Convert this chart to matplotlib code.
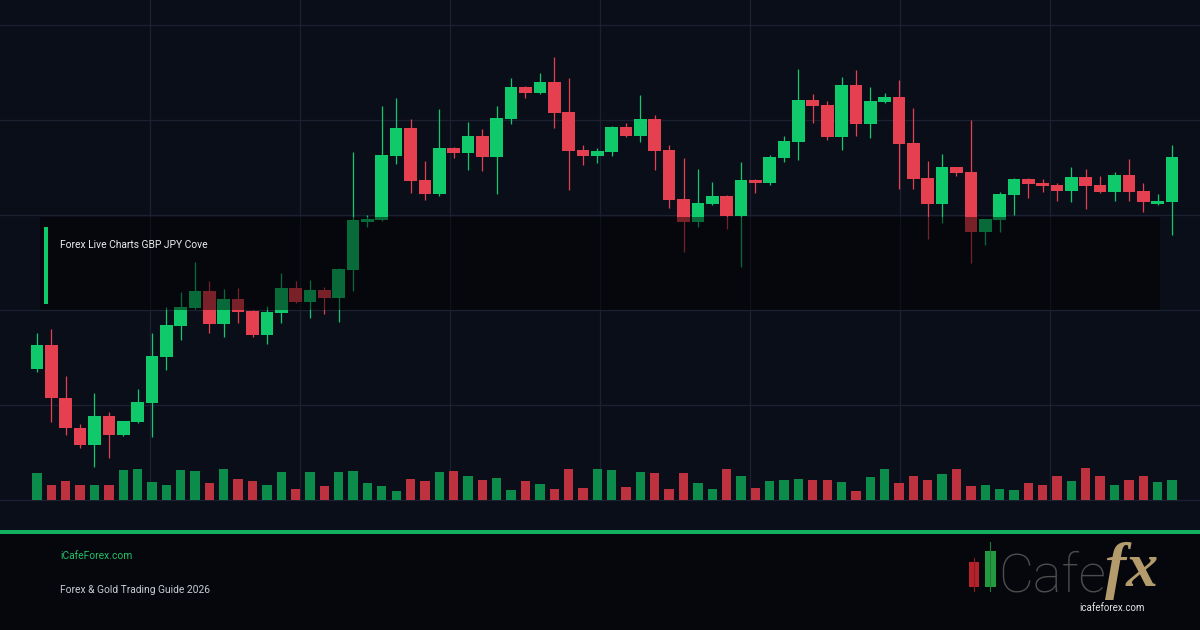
import matplotlib
matplotlib.use("Agg")
import matplotlib.pyplot as plt
from matplotlib.patches import Rectangle
import numpy as np

# ---------------- data (GBP/JPY candles) ----------------
opens = [196.38, 196.63, 196.07, 195.76, 195.58, 195.88, 195.68, 195.82, 196.02, 196.51,
         196.83, 197.02, 197.20, 196.85, 197.12, 196.99, 196.74, 196.97, 197.23, 197.08,
         197.21, 197.13, 197.42, 197.93, 197.95, 198.62, 198.92, 198.37, 198.22, 198.70,
         198.65, 198.83, 198.61, 199.01, 199.35, 199.28, 199.40, 199.08, 198.68, 198.62,
         198.66, 198.93, 198.83, 199.01, 198.68, 198.17, 197.93, 198.12, 198.20, 197.99,
         198.37, 198.34, 198.60, 198.77, 199.21, 199.16, 198.82, 199.37, 198.96, 199.19,
         199.24, 198.76, 198.39, 198.12, 198.50, 198.45, 197.82, 197.95, 198.21, 198.38,
         198.34, 198.32, 198.25, 198.40, 198.32, 198.24, 198.42, 198.25, 198.12, 198.14]

highs = [196.76, 196.80, 196.31, 195.80, 196.13, 195.93, 195.83, 196.17, 196.76, 197.03,
         197.19, 197.51, 197.31, 197.22, 197.23, 197.00, 197.04, 197.39, 197.31, 197.32,
         197.24, 197.44, 198.66, 198.00, 199.15, 199.23, 199.01, 198.57, 199.12, 198.72,
         198.98, 198.90, 199.15, 199.44, 199.36, 199.49, 199.66, 199.44, 198.74, 198.70,
         198.94, 198.97, 199.26, 199.05, 198.74, 198.60, 198.48, 198.35, 198.21, 198.56,
         198.38, 198.63, 198.83, 199.54, 199.27, 199.20, 199.45, 199.53, 199.35, 199.28,
         199.42, 199.13, 198.57, 198.64, 198.51, 199.00, 197.96, 198.24, 198.39, 198.39,
         198.38, 198.34, 198.50, 198.48, 198.41, 198.45, 198.59, 198.34, 198.22, 198.74]

lows = [196.35, 195.82, 195.68, 195.55, 195.35, 195.44, 195.67, 195.81, 195.66, 196.37,
        196.68, 197.01, 196.76, 196.72, 196.86, 196.72, 196.64, 196.86, 197.07, 196.92,
        196.96, 196.87, 197.20, 197.87, 197.94, 198.54, 198.23, 198.16, 198.20, 198.60,
        198.47, 198.46, 198.22, 198.96, 199.23, 199.27, 198.92, 198.26, 198.53, 198.55,
        198.62, 198.82, 198.77, 198.47, 198.07, 197.61, 197.87, 198.11, 197.85, 197.45,
        198.23, 198.32, 198.56, 198.58, 198.97, 198.79, 198.68, 198.83, 198.81, 199.18,
        198.27, 198.27, 197.75, 197.92, 198.41, 197.49, 197.68, 197.82, 198.00, 198.18,
        198.24, 198.15, 198.14, 198.06, 198.23, 198.15, 198.15, 198.03, 198.11, 197.79]

closes = [196.63, 196.07, 195.76, 195.58, 195.88, 195.68, 195.83, 196.03, 196.52, 196.84,
          197.03, 197.20, 196.85, 197.12, 196.98, 196.74, 196.98, 197.23, 197.08, 197.21,
          197.13, 197.43, 197.95, 197.96, 198.63, 198.92, 198.36, 198.22, 198.70, 198.65,
          198.83, 198.61, 199.02, 199.35, 199.28, 199.40, 199.07, 198.67, 198.62, 198.67,
          198.93, 198.83, 199.01, 198.67, 198.16, 197.93, 198.13, 198.20, 197.99, 198.37,
          198.34, 198.61, 198.78, 199.21, 199.15, 198.82, 199.37, 198.96, 199.20, 199.24,
          198.75, 198.38, 198.12, 198.50, 198.44, 197.82, 197.96, 198.22, 198.38, 198.33,
          198.31, 198.25, 198.40, 198.31, 198.24, 198.42, 198.24, 198.14, 198.15, 198.61]

volumes = [2730, 1470, 1930, 1530, 1470, 1470, 3030, 3130, 1830, 1470,
           3030, 2930, 1730, 3130, 2130, 1930, 1470, 2830, 1130, 2830,
           1370, 2830, 2930, 1730, 1370, 930, 2130, 1930, 2830, 2930,
           2430, 2030, 2230, 1030, 1930, 1630, 1130, 3130, 1230, 3130,
           3030, 1330, 2830, 2730, 1130, 2730, 1730, 1130, 3130, 2430,
           1230, 1930, 2030, 2130, 2030, 2030, 1830, 930, 2330, 3130,
           1730, 2430, 2030, 2630, 3130, 1430, 1530, 1130, 1030, 1730,
           1530, 2430, 1930, 3230, 2430, 1530, 2030, 2430, 1830, 2030]

price_grid = [195, 196, 197, 198, 199, 200]

title_text = "Forex Live Charts GBP JPY Cove"
footer_site = "iCafeForex.com"
footer_guide = "Forex & Gold Trading Guide 2026"
logo_word = "Cafe"
logo_fx = "fx"
logo_url = "icafeforex.com"

# ---------------- style ----------------
BG = "#0a0e19"
FOOT_BG = "#05070d"
GRID = "#1b2131"
UP = "#10c96a"
DOWN = "#e5404f"
VUP = "#0c8c4b"
VDOWN = "#be3240"
ACCENT = "#12b05f"

W, H = 1200, 630
fig = plt.figure(figsize=(12, 6.3), dpi=100, facecolor=BG)

# background / layout layer in pixel coordinates
bg = fig.add_axes([0, 0, 1, 1], zorder=0)
bg.set_xlim(0, W)
bg.set_ylim(H, 0)
bg.axis("off")
bg.add_patch(Rectangle((0, 0), W, 530, color=BG, lw=0))
bg.add_patch(Rectangle((0, 530), W, 100, color=FOOT_BG, lw=0))
for gx in [150, 300, 450, 600, 750, 900, 1050]:
    bg.plot([gx, gx], [0, 500], color=GRID, lw=0.9)

# candle axes: occupies pixel rows 0..500
x0_px, step_px = 37.0, 14.367
xlim = (-x0_px / step_px, (W - x0_px) / step_px)
ax = fig.add_axes([0, 130 / H, 1, 500 / H], zorder=1)
ax.set_xlim(*xlim)
ax.set_ylim(195.0, 200.263)
ax.patch.set_alpha(0)
ax.axis("off")
for p in price_grid:
    ax.axhline(p, color=GRID, lw=0.9, zorder=0, clip_on=False)

xs = np.arange(len(opens))
o = np.array(opens); c = np.array(closes); hi = np.array(highs); lo = np.array(lows)
up = c >= o
cols = np.where(up, UP, DOWN)
ax.vlines(xs, lo, hi, colors=cols, lw=0.9, zorder=2)
body_bottom = np.minimum(o, c)
body_h = np.maximum(np.abs(c - o), 0.012)
ax.bar(xs, body_h, bottom=body_bottom, width=0.88, color=cols, lw=0, zorder=3)

# volume axes: baseline at pixel row 500, 1 px = 100 units
vax = fig.add_axes([0, 130 / H, 1, 40 / H], zorder=1)
vax.set_xlim(*xlim)
vax.set_ylim(0, 4000)
vax.patch.set_alpha(0)
vax.axis("off")
vax.bar(xs, volumes, width=0.65, color=np.where(up, VUP, VDOWN), lw=0)

# overlay layer
ov = fig.add_axes([0, 0, 1, 1], zorder=5)
ov.set_xlim(0, W)
ov.set_ylim(H, 0)
ov.patch.set_alpha(0)
ov.axis("off")
ov.add_patch(Rectangle((40, 217), 1120, 93, color="black", alpha=0.47, lw=0))
ov.add_patch(Rectangle((44, 227), 4, 77, color=UP, lw=0))
ov.text(60, 245, title_text, color="#eeeeee", fontsize=7.4, family="Roboto",
        va="center", ha="left")

ov.add_patch(Rectangle((0, 529.5), W, 4.5, color=ACCENT, lw=0))
ov.text(60, 556, footer_site, color="#22c06a", fontsize=7.4, family="Roboto",
        va="center", ha="left")
ov.text(60, 590, footer_guide, color="#c9cdd6", fontsize=7.4, family="Roboto",
        va="center", ha="left")

# logo
ov.plot([974.3, 974.3], [558, 591], color="#8a1d22", lw=0.8)
ov.add_patch(Rectangle((969.3, 561.7), 10, 25.6, color="#b5222a", lw=0))
ov.plot([990.3, 990.3], [542, 591], color="#1d7a35", lw=0.8)
ov.add_patch(Rectangle((985, 550.7), 10.7, 36, color="#239a40", lw=0))
ov.text(998, 591.5, logo_word, color="#4d4d4d", fontsize=39, family="Roboto",
        fontweight="light", va="baseline", ha="left")
ov.text(1105, 586, logo_fx, color="#b39b6b", fontsize=46, family="Liberation Serif",
        style="italic", fontweight="bold", va="baseline", ha="left")
ov.text(1112, 608, logo_url, color="#e6e6e6", fontsize=7, family="Roboto",
        va="center", ha="center")

fig.savefig("out.png", dpi=100, facecolor=BG)
